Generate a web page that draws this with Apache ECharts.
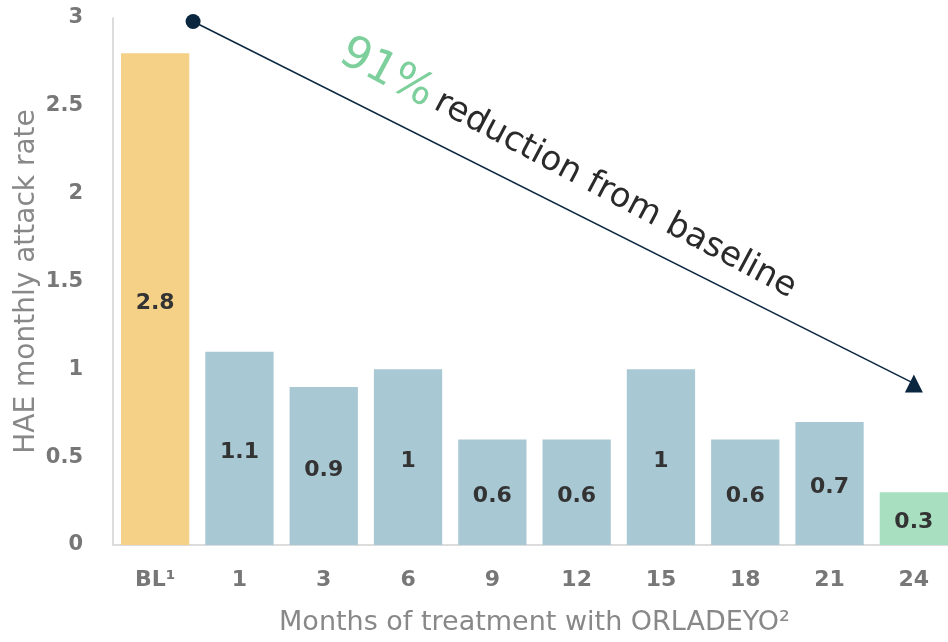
<!DOCTYPE html>
<html><head><meta charset="utf-8">
<script src="https://cdn.jsdelivr.net/npm/echarts@6/dist/echarts.min.js"></script>
<style>html,body{margin:0;padding:0;background:#fff}#c{width:948px;height:642px}</style>
</head><body><div id="c"></div>
<script>
const categories = ['BL¹','1','3','6','9','12','15','18','21','24'];
const rates = [2.8,1.1,0.9,1,0.6,0.6,1,0.6,0.7,0.3];
const barColors = ['#F5D187','#A8C8D4','#A8C8D4','#A8C8D4','#A8C8D4','#A8C8D4','#A8C8D4','#A8C8D4','#A8C8D4','#A8DFC1'];
const arrowPoints = [[0.45,2.98],[9,0.92]];
const yTicks = {min:0,max:3,interval:0.5};
const xName = 'Months of treatment with ORLADEYO²';
const yName = 'HAE monthly attack rate';
const FONT = '"DejaVu Sans", "Open Sans", sans-serif';

const chart = echarts.init(document.getElementById('c'));
chart.setOption({
  animation:false,
  grid:{left:113,top:18,bottom:97,width:843,outerBoundsMode:'none'},
  xAxis:[{
    type:'category',data:categories,
    axisLine:{lineStyle:{color:'#dcdcdc',width:2}},
    axisTick:{show:false},
    axisLabel:{color:'#777',fontSize:22,fontWeight:'bold',fontFamily:FONT,margin:24},
    name:xName,nameLocation:'middle',nameGap:64,nameMoveOverlap:false,
    nameTextStyle:{color:'#888',fontSize:27,fontFamily:FONT}
  },{
    type:'value',min:-0.5,max:9.5,show:false
  }],
  yAxis:{
    type:'value',min:yTicks.min,max:yTicks.max,interval:yTicks.interval,
    splitLine:{show:false},
    axisLine:{show:true,onZero:false,lineStyle:{color:'#dcdcdc',width:2}},
    axisTick:{show:false},
    axisLabel:{color:'#777',fontSize:21,fontWeight:'bold',fontFamily:FONT,margin:30},
    name:yName,nameLocation:'middle',nameGap:72,nameMoveOverlap:false,
    nameTextStyle:{color:'#888',fontSize:28,fontFamily:FONT}
  },
  series:[{
    type:'bar',barCategoryGap:'19%',
    data:rates.map((v,i)=>({value:v,itemStyle:{color:barColors[i]}})),
    label:{show:true,position:'inside',offset:[0,4],color:'#333',fontSize:22,fontWeight:'bold',fontFamily:FONT}
  },{
    type:'line',xAxisIndex:1,
    data:arrowPoints.map((p,i)=>({value:p,symbol:i===0?'circle':'triangle',symbolSize:i===0?15:18})),
    lineStyle:{color:'#0B2740',width:1.5},
    itemStyle:{color:'#0B2740'},
    z:5
  }],
  graphic:[{
    type:'text',x:568,y:170,rotation:-28*Math.PI/180,
    style:{
      text:'{g|91%}  {d|reduction from baseline}',
      align:'center',verticalAlign:'middle',
      rich:{
        g:{fill:'#7DCF9C',fontSize:45,fontFamily:FONT},
        d:{fill:'#2a2a2a',fontSize:34,fontFamily:FONT}
      }
    }
  }]
});
</script></body></html>
